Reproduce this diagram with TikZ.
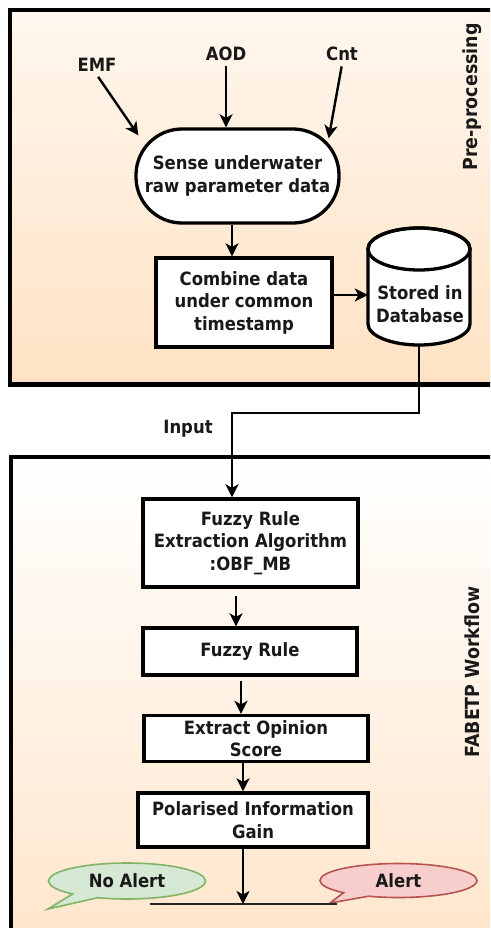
\documentclass[tikz,border=0pt]{standalone}
\usepackage{fontspec}
\setmainfont{DejaVu Sans}[FakeStretch=0.9]
\usetikzlibrary{arrows.meta,shapes.callouts,calc}
\definecolor{peachA}{HTML}{FFF7EE}
\definecolor{peachB}{HTML}{FFE2C4}
\definecolor{peachC}{HTML}{FFE6CC}
\definecolor{gfill}{HTML}{D5E8D4}
\definecolor{gline}{HTML}{82B366}
\definecolor{rfill}{HTML}{F8CECC}
\definecolor{rline}{HTML}{B85450}
\begin{document}
\begin{tikzpicture}[x=1pt,y=-1pt,
  every node/.style={font=\fontsize{18.3}{22.5}\selectfont\bfseries, align=center, text=black!90},
  box/.style={draw, line width=3.3pt, fill=white, inner sep=0pt},
  arr/.style={line width=2.4pt, -{Stealth[length=13pt,width=13pt,inset=3.5pt]}},
  frame/.style={draw, line width=4.2pt},
  side/.style={rotate=90, font=\fontsize{19.4}{22}\selectfont\bfseries},
  bubble/.style={ellipse callout, line width=1.6pt, inner sep=0pt, minimum width=157pt, minimum height=36pt, callout pointer arc=22}
]
\useasboundingbox (0,0) rectangle (490,928);
\fill[white] (0,0) rectangle (490,928);
\begin{scope}
\clip (0,0) rectangle (490,928);
\shade[top color=peachA, bottom color=peachB] (10,10) rectangle (500,384.5);
\draw[frame] (10,10) rectangle (500,384.5);
\shade[top color=white, bottom color=peachC] (11,457) rectangle (500,940);
\draw[frame] (11,457) rectangle (500,940);
\end{scope}

% side labels
\node[side] (pre) at (472,97) {Pre-processing};
\node[side] (fab) at (472,672) {FABETP Workflow};

% inputs
\node (emf) at (97,65) {EMF};
\node (aod) at (226,54) {AOD};
\node (cnt) at (342,54) {Cnt};

% process nodes
\node[box, rounded corners=46pt, minimum width=203pt, minimum height=94pt] (sense) at (237.5,176) {Sense underwater\\raw parameter data};
\node[box, minimum width=176pt, minimum height=89pt] (comb) at (244,302.5) {Combine data\\under common\\timestamp};

% database cylinder
\node[minimum width=102pt, minimum height=117pt, inner sep=0pt] (db) at (419,286.5) {};
\filldraw[line width=3.3pt, fill=white] (368,249) -- (368,324) arc[start angle=180, end angle=0, x radius=51, y radius=21] -- (470,249) arc[start angle=0, end angle=-180, x radius=51, y radius=21] -- cycle;
\draw[line width=3.3pt] (419,249) ellipse [x radius=51, y radius=21];
\node (dbt) at (420,304) {Stored in\\Database};

\node[box, minimum width=215pt, minimum height=88pt] (fr1) at (250.5,543) {Fuzzy Rule\\Extraction Algorithm\\:OBF\_MB};
\node[box, minimum width=214pt, minimum height=47pt] (fr2) at (250,651.5) {Fuzzy Rule};
\node[box, minimum width=224pt, minimum height=46pt] (eos) at (256,738.5) {Extract Opinion\\Score};
\node[box, minimum width=230pt, minimum height=54pt] (pig) at (253,820) {Polarised Information\\Gain};

\node (input) at (188,429) {Input};

% guide coordinates
\coordinate (xa) at (232,0);
\coordinate (ya) at (0,295);
\coordinate (xb) at (236,0);
\coordinate (xc) at (241,0);
\coordinate (xd) at (243,0);
\coordinate (bend) at (232,413);
\coordinate (l1) at (150,904);
\coordinate (l2) at (337,904);

% connectors
\draw[arr, shorten <=2pt] (emf.south) -- ([shift={(4,8)}]sense.north west);
\draw[arr, shorten <=2pt] (aod.south) -- (aod.south |- sense.north);
\draw[arr, shorten <=2pt] (cnt.south) -- ([shift={(-12,11)}]sense.north east);
\draw[arr] (sense.south -| xa) -- (comb.north -| xa);
\draw[arr] (comb.east |- ya) -- (db.west |- ya);
\draw[arr] (db.south) |- (bend) -- (bend |- fr1.north);
\draw[arr, shorten <=7pt] (fr1.south -| xb) -- (fr2.north -| xb);
\draw[arr, shorten <=4pt] (fr2.south -| xc) -- (eos.north -| xc);
\draw[arr] (eos.south -| xd) -- (pig.north -| xd);

% alerts
\node[bubble, draw=gline, fill=gfill, callout absolute pointer={(48,909)}] (noal) at (127,881) {No Alert};
\node[bubble, draw=rline, fill=rfill, minimum height=34pt, callout absolute pointer={(330,903)}] (al) at (398.5,880.5) {Alert};
\draw[line width=2.2pt, black!85] (l1) -- (l2);
\draw[arr] (pig.south -| xd) -- (l1 -| xd);
\end{tikzpicture}
\end{document}
